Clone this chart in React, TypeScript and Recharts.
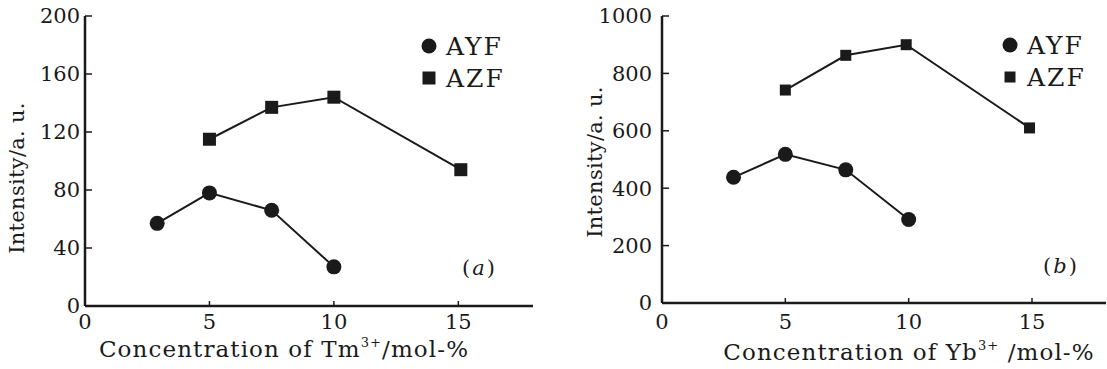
import React from 'react';
import { LineChart, Line, XAxis, YAxis, Legend } from 'recharts';

// panel (a): Tm3+ concentration series
const tmAyfConc = [2.9, 5, 7.5, 10];
const tmAyfIntensity = [57, 78, 66, 27];
const tmAzfConc = [5, 7.5, 10, 15.1];
const tmAzfIntensity = [115, 137, 144, 94];

// panel (b): Yb3+ concentration series
const ybAyfConc = [2.9, 5, 7.45, 10];
const ybAyfIntensity = [438, 518, 464, 291];
const ybAzfConc = [5, 7.45, 9.9, 14.9];
const ybAzfIntensity = [742, 863, 900, 610];

const xTicks = [0, 5, 10, 15];
const tmYTicks = [0, 40, 80, 120, 160, 200];
const ybYTicks = [0, 200, 400, 600, 800, 1000];
const seriesNames = ['AYF', 'AZF'];

const toPoints = (xs: number[], ys: number[]) => xs.map((x, i) => ({ x, y: ys[i] }));

const FONT = '"DejaVu Serif", serif';
const INK = '#1a1a1a';

const renderCircle = (r: number) => (props: any) => (
    <circle key={`c-${props.index}`} cx={props.cx} cy={props.cy} r={r} fill={INK} />
);

const renderSquare = (s: number) => (props: any) => (
    <rect key={`s-${props.index}`} x={props.cx - s / 2} y={props.cy - s / 2} width={s} height={s} fill={INK} />
);

const yLabel = (text: string, x: number, cy: number) => () => (
    <text
        x={x}
        y={cy}
        transform={`rotate(-90, ${x}, ${cy})`}
        textAnchor="middle"
        dominantBaseline="central"
        fontFamily={FONT}
        fontSize={21}
        letterSpacing={0.3}
        fill={INK}
    >
        {text}
    </text>
);

const xLabel = (ion: string, cx: number, baseline: number, gap: string) => () => (
    <text x={cx} y={baseline} textAnchor="middle" fontFamily={FONT} fontSize={23} letterSpacing={1.1} fill={INK}>
        Concentration of {ion}
        <tspan dy={-10} fontSize={13}>3+</tspan>
        <tspan dy={10}>{gap}/mol-%</tspan>
    </text>
);

const legendContent = (markerSize: number) => ({ payload }: any) => (
    <div style={{ fontFamily: FONT, fontSize: 25, letterSpacing: 2, color: INK }}>
        {(payload || []).map((entry: any) => (
            <div key={entry.value} style={{ display: 'flex', alignItems: 'center', height: 32 }}>
                <svg width={18} height={18} style={{ marginRight: 8 }}>
                    {entry.value === 'AYF' ? (
                        <circle cx={9} cy={9} r={7.5} fill={INK} />
                    ) : (
                        <rect x={9 - markerSize / 2} y={9 - markerSize / 2} width={markerSize} height={markerSize} fill={INK} />
                    )}
                </svg>
                <span>{entry.value}</span>
            </div>
        ))}
    </div>
);

interface PanelProps {
    left: number;
    width: number;
    margin: { top: number; right: number; bottom: number; left: number };
    yWidth: number;
    xHeight: number;
    yMax: number;
    yTicks: number[];
    ayf: { x: number; y: number }[];
    azf: { x: number; y: number }[];
    yTickMargin: number;
    xTickMargin: number;
    yLabelX: number;
    yLabelY: number;
    xLabelX: number;
    xLabelY: number;
    ion: string;
    gap: string;
    tag: string;
    tagX: number;
    tagY: number;
    legendLeft: number;
    legendTop: number;
    squareSize: number;
}

function Panel(p: PanelProps) {
    const axisStyle = { stroke: INK, strokeWidth: 2.5 };
    const tickStyle = { fontFamily: FONT, fontSize: 21, fill: INK };
    return (
        <div style={{ position: 'absolute', left: p.left, top: 0 }}>
            <LineChart width={p.width} height={369} margin={p.margin}>
                <XAxis
                    dataKey="x"
                    type="number"
                    domain={[0, 18]}
                    ticks={xTicks}
                    allowDataOverflow
                    height={p.xHeight}
                    axisLine={axisStyle}
                    tickLine={{ stroke: INK, strokeWidth: 1.5 }}
                    tickSize={-5}
                    tickMargin={p.xTickMargin}
                    tick={tickStyle}
                    label={{ content: xLabel(p.ion, p.xLabelX, p.xLabelY, p.gap) }}
                />
                <XAxis xAxisId="top" orientation="top" type="number" domain={[0, 18]} height={0} tick={false} tickLine={false} axisLine={axisStyle} />
                <YAxis
                    type="number"
                    domain={[0, p.yMax]}
                    ticks={p.yTicks}
                    width={p.yWidth}
                    axisLine={axisStyle}
                    tickLine={{ stroke: INK, strokeWidth: 1.5 }}
                    tickSize={-7}
                    tickMargin={p.yTickMargin}
                    tick={tickStyle}
                    label={{ content: yLabel('Intensity/a. u.', p.yLabelX, p.yLabelY) }}
                />
                <YAxis yAxisId="right" orientation="right" type="number" domain={[0, p.yMax]} width={0} tick={false} tickLine={false} axisLine={axisStyle} />
                <Legend
                    layout="vertical"
                    align="center"
                    verticalAlign="middle"
                    wrapperStyle={{ left: p.legendLeft, top: p.legendTop, width: 120 }}
                    content={legendContent(p.squareSize)}
                />
                <Line
                    data={p.ayf}
                    dataKey="y"
                    name={seriesNames[0]}
                    stroke={INK}
                    strokeWidth={2}
                    dot={renderCircle(7.5)}
                    activeDot={false}
                    isAnimationActive={false}
                />
                <Line
                    data={p.azf}
                    dataKey="y"
                    name={seriesNames[1]}
                    stroke={INK}
                    strokeWidth={2}
                    dot={renderSquare(p.squareSize)}
                    activeDot={false}
                    isAnimationActive={false}
                />
            </LineChart>
            <div
                style={{
                    position: 'absolute',
                    left: p.tagX,
                    top: p.tagY,
                    fontFamily: FONT,
                    fontSize: 21,
                    color: INK,
                    letterSpacing: 2,
                }}
            >
                (<i>{p.tag}</i>)
            </div>
        </div>
    );
}

export default function App() {
    return (
        <div style={{ position: 'absolute', left: 0, top: 0, width: 1107, height: 369, background: '#fff', overflow: 'hidden' }}>
            <Panel
                left={0}
                width={545}
                margin={{ top: 16, right: 12, bottom: 0, left: 0 }}
                yWidth={85}
                xHeight={63}
                yMax={200}
                yTicks={tmYTicks}
                ayf={toPoints(tmAyfConc, tmAyfIntensity)}
                azf={toPoints(tmAzfConc, tmAzfIntensity)}
                yTickMargin={12}
                xTickMargin={13}
                yLabelX={17}
                yLabelY={178}
                xLabelX={284}
                xLabelY={357}
                ion="Tm"
                gap=""
                tag="a"
                tagX={462}
                tagY={256}
                legendLeft={420}
                legendTop={30}
                squareSize={13}
            />
            <Panel
                left={560}
                width={547}
                margin={{ top: 16, right: 1, bottom: 0, left: 0 }}
                yWidth={102}
                xHeight={66}
                yMax={1000}
                yTicks={ybYTicks}
                ayf={toPoints(ybAyfConc, ybAyfIntensity)}
                azf={toPoints(ybAzfConc, ybAzfIntensity)}
                yTickMargin={17}
                xTickMargin={16}
                yLabelX={35}
                yLabelY={162}
                xLabelX={349}
                xLabelY={360}
                ion="Yb"
                gap=" "
                tag="b"
                tagX={483}
                tagY={254}
                legendLeft={441}
                legendTop={29}
                squareSize={11}
            />
        </div>
    );
}
